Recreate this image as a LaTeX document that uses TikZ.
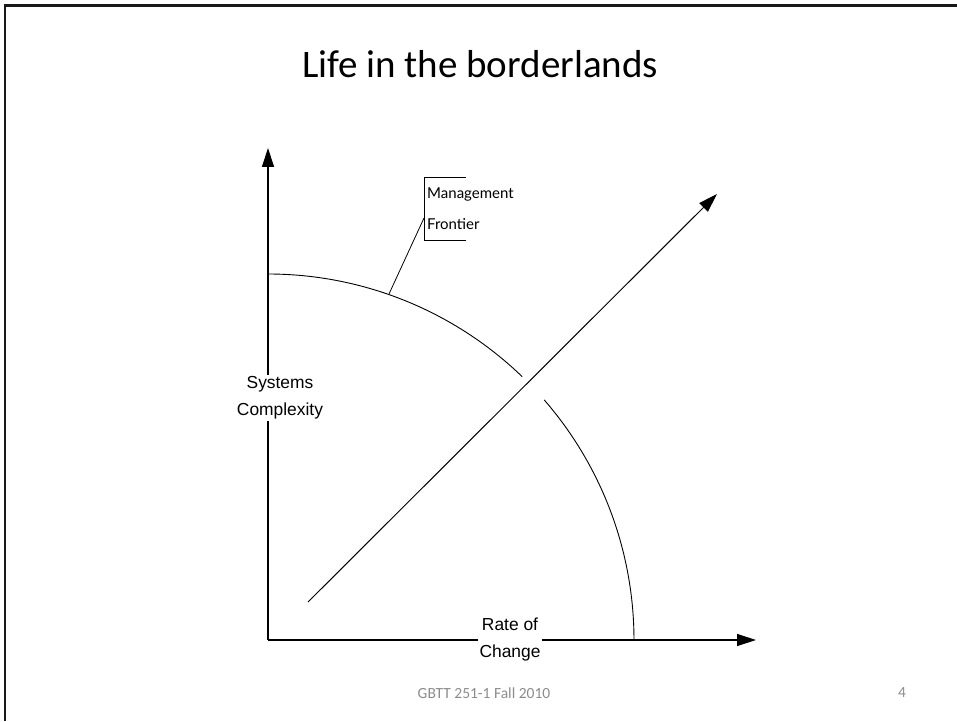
\documentclass[tikz,border=0pt]{standalone}
\usepackage{fontspec}
\setmainfont{Carlito}
\newfontfamily\arialf{Liberation Sans}
\newfontfamily\gillf{Lato}
\usetikzlibrary{arrows.meta}
\definecolor{footgray}{HTML}{8C8C8C}
\tikzset{
  axis/.style={line width=1.2pt,-{Triangle[length=19pt,width=12pt]}},
  curve/.style={line width=0.9pt},
  lbl/.style={font=\arialf\fontsize{17.4}{27}\selectfont,align=center,fill=white,inner sep=2pt},
  foot/.style={font=\fontsize{15.5}{18}\selectfont,text=footgray},
}
\begin{document}
\begin{tikzpicture}[x=1pt,y=1pt]
\useasboundingbox (0,0) rectangle (957,721);
% slide frame
\draw[line width=2.5pt,color=black!90] (5,0) -- (5,715.5) -- (957,715.5);
% title
\node (title) at (480,657) {\fontsize{39}{45}\selectfont Life in the borderlands};
% axes
\coordinate (O) at (268,81);
\coordinate (ytip) at (268,573);
\coordinate (xtip) at (756,81);
\draw[axis] (O) -- (ytip);
\draw[axis] (O) -- (xtip);
% frontier arc
\draw[curve] (268,447) arc[start angle=90,end angle=46,radius=366];
\draw[curve] (544.2,321.1) arc[start angle=41,end angle=0,radius=366];
% diagonal arrow
\coordinate (dstart) at (308,119);
\coordinate (dtip) at (717,527);
\draw[line width=1pt,-{Triangle[length=19pt,width=12pt]}] (dstart) -- (dtip);
% management frontier callout
\coordinate (mf) at (424,503);
\coordinate (arcpt) at (389,427);
\draw[line width=0.8pt] (466,544) -- (424,544) -- (424,481) -- (466,481);
\node[anchor=west,align=left,inner sep=0pt,font=\gillf\fontsize{15}{31}\selectfont] (mgmt) at (427,512.5) {Management\\Frontier};
\draw[line width=0.8pt] (mf) -- (arcpt);
% axis labels
\node[lbl] (ylab) at (280,323) {Systems\\Complexity};
\node[lbl] (xlab) at (510,81) {Rate of\\Change};
% footer
\node[foot] (footer) at (484,28) {GBTT 251-1 Fall 2010};
\node[foot] (pagenum) at (902,28) {4};
\end{tikzpicture}
\end{document}
